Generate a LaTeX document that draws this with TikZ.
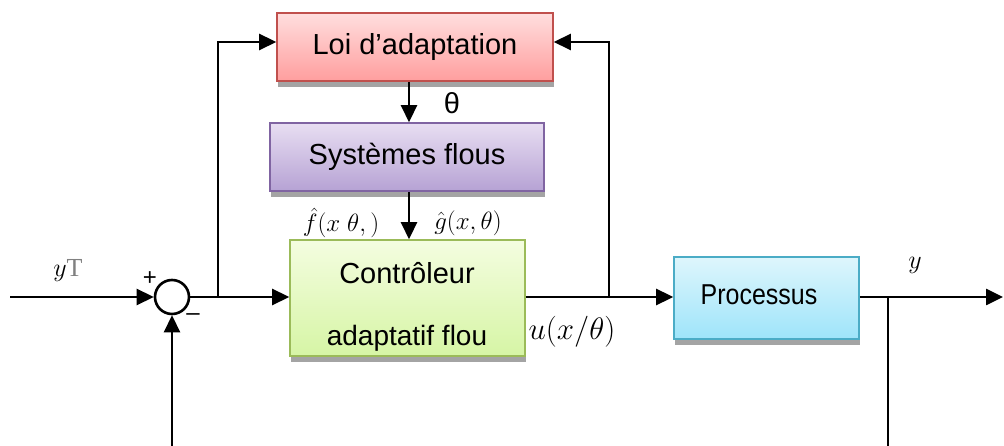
\RequirePackage{fix-cm}
\documentclass[tikz,border=0pt]{standalone}
\usepackage[no-math]{fontspec}
\setmainfont{Liberation Sans}
\newfontfamily\serifT{Liberation Serif}
\usetikzlibrary{arrows.meta,shadows,calc}

\definecolor{loiB}{RGB}{192,80,77}
\definecolor{sysB}{RGB}{128,100,162}
\definecolor{ctlB}{RGB}{155,187,89}
\definecolor{proB}{RGB}{75,172,198}
\definecolor{shadowgray}{RGB}{164,164,164}

\tikzset{
  blk/.style={draw, line width=1.6pt, minimum width=#1, inner sep=0pt,
    general shadow={fill=shadowgray, shadow xshift=1pt, shadow yshift=-6pt}},
  wire/.style={line width=2.6pt},
  arr/.style={wire, -{Triangle[length=17pt,width=16pt]}},
  big/.style={font=\fontsize{29}{34}\selectfont},
  mathlbl/.style={font=\fontsize{25}{28}\selectfont, inner sep=0pt},
}

\begin{document}
\begin{tikzpicture}[x=1pt, y=-1pt]
\useasboundingbox (0,0) rectangle (1004,446);

% blocks
\node[blk=276pt, minimum height=68pt, draw=loiB,
      top color={rgb,255:red,255;green,222;blue,222},
      bottom color={rgb,255:red,255;green,158;blue,158}, big]
      (loi) at (415,47) {Loi d'adaptation};
\node[blk=274pt, minimum height=68pt, draw=sysB,
      top color={rgb,255:red,232;green,222;blue,242},
      bottom color={rgb,255:red,182;green,162;blue,212}, big]
      (sys) at (407,157) {Systèmes flous};
\node[blk=235pt, minimum height=116pt, draw=ctlB,
      top color={rgb,255:red,244;green,253;blue,224},
      bottom color={rgb,255:red,214;green,245;blue,165}]
      (ctl) at (407.5,298) {};
\node[big, align=center, inner sep=0pt] (ctltxt) at (407,307)
      {Contrôleur\\[28pt]\fontsize{28}{34}\selectfont adaptatif flou};
\node[blk=185pt, minimum height=82pt, draw=proB,
      top color={rgb,255:red,222;green,246;blue,252},
      bottom color={rgb,255:red,158;green,228;blue,250}]
      (proc) at (766.5,298) {};
\node[font=\fontsize{25}{30}\selectfont] (proctxt) at (759,295)
      {\scalebox{1}[1.15]{Processus}};

% summing junction
\node[circle, draw, line width=2.6pt, minimum size=34pt, inner sep=0pt, fill=white]
      (sum) at (172,297) {};
\node[font=\fontsize{24}{28}\selectfont, inner sep=0pt] (plus) at (150,279) {+};
\node[font=\fontsize{24}{28}\selectfont, inner sep=0pt] (minus) at (193,317) {–};

% junction points and free ends
\coordinate (in) at (10,297);
\coordinate (b1) at (218,297);
\coordinate (b2) at (609,297);
\coordinate (b3) at (888,297);
\coordinate (out) at (1003,297);
\coordinate (bot1) at (172,446);
\coordinate (bot2) at (888,446);

% connectors
\draw[arr] (in) -- (sum.west);
\draw[arr] (sum.east) -- (sum.east -| ctl.west);
\draw[arr] (b1) |- ([yshift=5pt]loi.west);
\draw[arr] (ctl.east |- b2) -- (proc.west |- b2);
\draw[arr] (b2) |- ([yshift=5pt]loi.east);
\draw[arr] (proc.east |- b3) -- (out);
\draw[wire] (b3) -- (bot2);
\draw[arr] (bot1) -- (sum.south);
\draw[arr] (loi.south -| 409,0) -- (sys.north -| 409,0);
\draw[arr] (sys.south -| 409,0) -- (ctl.north -| 409,0);

% signal labels
\node[big] (theta) at (452,103) {θ};
\node[mathlbl] (fhat) at (341,223) {$\hat f(x\;\theta,)$};
\node[mathlbl] (ghat) at (468,223) {$\hat g(x,\theta)$};
\node[font=\fontsize{26}{28}\selectfont, inner sep=0pt] (yT) at (68,271) {$y$\textcolor{gray}{\serifT T}};
\node[font=\fontsize{26}{28}\selectfont, inner sep=0pt] (yout) at (915,265) {$y$};
\node[font=\fontsize{31}{34}\selectfont, inner sep=0pt] (ulbl) at (572,332) {$u(x/\theta)$};
\end{tikzpicture}
\end{document}
